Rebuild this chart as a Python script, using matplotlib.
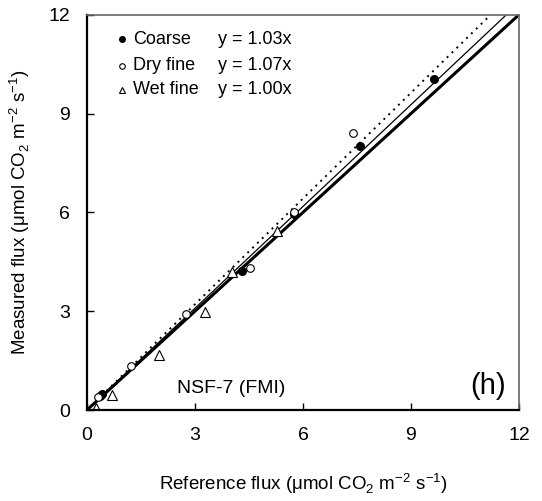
import matplotlib
matplotlib.use("Agg")
import numpy as np
from matplotlib import pyplot as plt

plt.rcParams['font.family'] = ['Liberation Sans', 'DejaVu Sans']
plt.rcParams['mathtext.fontset'] = 'custom'
plt.rcParams['mathtext.rm'] = 'Liberation Sans'

# reference flux vs measured flux for each soil class
coarse_x = [0.35, 0.41, 4.30, 5.75, 7.58, 9.65]
coarse_y = [0.42, 0.48, 4.23, 5.96, 8.02, 10.05]
dry_x = [0.31, 1.21, 2.75, 4.53, 5.75, 7.39]
dry_y = [0.40, 1.35, 2.92, 4.32, 6.00, 8.42]
wet_x = [0.25, 0.69, 2.00, 3.28, 4.02, 5.27]
wet_y = [0.06, 0.46, 1.67, 2.99, 4.20, 5.44]

names = ['Coarse', 'Dry fine', 'Wet fine']
slopes = [1.03, 1.07, 1.00]
ticks = [0, 3, 6, 9, 12]

fig = plt.figure(figsize=(5.42, 5.01), dpi=100)
ax = fig.add_axes([0.1605, 0.1816, 0.797, 0.789])

line_x = np.array([0, 12])
ax.plot(line_x, line_x, color='black', linewidth=2.2)
ax.plot(line_x, slopes[0] * line_x, color='black', linewidth=0.9)
ax.plot(line_x, slopes[1] * line_x, color='black', linewidth=1.4, linestyle=(0, (1, 2.5)))
ax.plot(line_x, slopes[2] * line_x, color='black', linewidth=0.9)

ax.plot(coarse_x, coarse_y, 'o', color='black', markersize=5.5)
ax.plot(dry_x, dry_y, 'o', markerfacecolor='white', markeredgecolor='black', markersize=5.5, markeredgewidth=0.8)
ax.plot(wet_x, wet_y, '^', markerfacecolor='white', markeredgecolor='black', markersize=6.5, markeredgewidth=0.8)

# hand-made key with slope of each fit
styles = [dict(marker='o', color='black', markersize=4),
          dict(marker='o', markerfacecolor='white', markeredgecolor='black', markersize=4, markeredgewidth=0.8),
          dict(marker='^', markerfacecolor='white', markeredgecolor='black', markersize=4.5, markeredgewidth=0.8)]
rows = [11.25, 10.45, 9.72]
for name, slope, st, yy in zip(names, slopes, styles, rows):
    ax.plot([0.97], [yy], linestyle='none', **st)
    ax.text(1.28, yy, name, fontsize=13, va='center')
    ax.text(3.65, yy, 'y = %.2fx' % slope, fontsize=13, va='center')

ax.text(4.0, 0.64, 'NSF-7 (FMI)', fontsize=14, ha='center', va='center')
ax.text(11.65, 0.73, '(h)', fontsize=21, ha='right', va='center')

ax.set_xlim(0, 12)
ax.set_ylim(0, 12)
ax.set_xticks(ticks)
ax.set_yticks(ticks)
ax.tick_params(direction='in', length=5, width=1, labelsize=14, pad=12)
for side in ['left', 'bottom']:
    ax.spines[side].set_linewidth(1.6)
for side in ['top', 'right']:
    ax.spines[side].set_color('#666666')
    ax.spines[side].set_linewidth(1.2)

ax.set_xlabel('Reference flux (μmol CO$_2$ m$^{-2}$ s$^{-1}$)', fontsize=13.5, labelpad=20)
ax.set_ylabel('Measured flux (μmol CO$_2$ m$^{-2}$ s$^{-1}$)', fontsize=13.5, labelpad=12)

fig.savefig('out.png', dpi=100)
